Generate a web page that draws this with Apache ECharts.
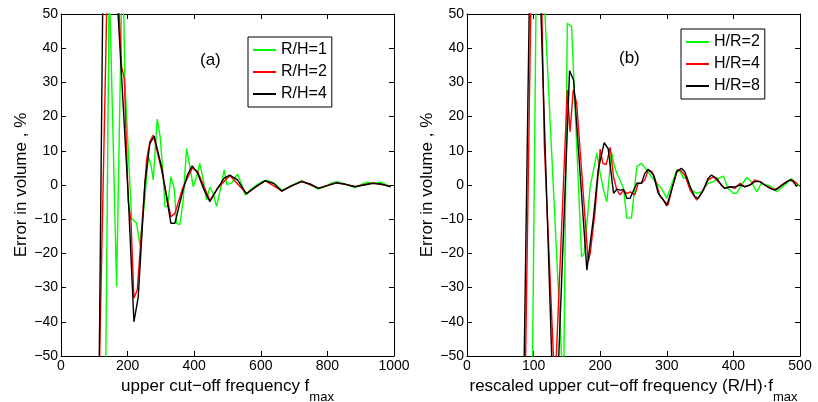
<!DOCTYPE html>
<html>
<head>
<meta charset="utf-8">
<script src="https://cdn.jsdelivr.net/npm/echarts@6/dist/echarts.min.js"></script>
<style>
html,body{margin:0;padding:0;background:#fff;}
#chart{width:818px;height:402px;}
</style>
</head>
<body>
<div id="chart"></div>
<script>
// ---------- Panel (a): x = upper cut-off frequency f_max ----------
const xA_RH1 = [130,145,167,185,192,212,217,227,237,242,252,262,270,277,289,298,307,312,320,330,340,347,357,367,377,387,397,407,417,427,437,447,457,467,480,490,498,513,530,543,553,568,588,603,618,640,663,680,700,723,745,773,795,810,828,850,883,905,920,937,960,990];
const yA_RH1 = [-100,60,-29.7,70,30,-9.7,-9.7,-11.2,-17.5,-17.5,-4,8.3,6,1.5,19.3,14,2.4,-6.3,-6.3,2.4,-1,-11.2,-11.6,-4.4,10.7,5.4,-0.5,2.4,6.3,1.6,-4.4,-0.6,-2.5,-6.3,-0.6,4.4,0.1,0.6,3.2,0.1,-2.9,-1.4,0,1.0,1.4,0.5,-1.5,-0.8,0.2,1.3,0.2,-1.2,-0.4,0.5,1.0,0.4,-0.8,0.3,0.8,0.4,0.8,-0.5];

const xA_RH2 = [110,145,160,175,182,190,202,210,219,229,257,267,277,302,330,342,365,394,410,447,470,507,557,613,663,723,773,828,883,937,990];
const yA_RH2 = [-79,88,110,50,34.6,31.2,-4.9,-10.2,-33.1,-30.7,7.3,12.7,14.6,4.4,-9.3,-8.3,-1,5,4,-4.5,-1,2.8,-2.5,1.3,-1.7,1.1,-0.9,0.7,-0.4,0.6,-0.4];

const xA_RH4 = [105,135,150,160,202,219,232,252,267,280,302,330,342,365,380,394,410,430,447,470,490,507,530,557,585,613,638,663,693,723,748,773,800,828,855,883,910,937,965,990];
const yA_RH4 = [-150,150,120,70,-3.4,-40,-32.7,0.5,12.2,14.3,5.2,-11.2,-11.2,-2,3,5.6,3.5,-1.5,-4.9,-1,2,2.9,1.5,-2.6,-0.5,1.2,0.5,-1.8,-0.2,1.0,0.3,-1.0,-0.2,0.6,0.2,-0.5,0,0.5,0.2,-0.5];

// ---------- Panel (b): x = rescaled frequency (R/H)*f_max ----------
const xB_HR2 = [95,106,110,145,150.6,157,172,176,185,195,200,205,210,217,222,227,232,235,240,247,255,262,270,277,285,292,300,307,315,320,325,330,337,345,352,362,370,377,385,392,400,405,412,420,427,435,442,450,457,465,472,480,487,495,500];
const yB_HR2 = [-120,100,78,-62,47.3,46.3,-21,-20,-0.5,9.3,3.4,-1.5,-4.9,9.5,5,2.4,0.5,-1,-9.7,-9.7,5.4,6.3,4.4,2.4,0.5,-1,-3.9,0,4.4,3.9,2.0,2.4,-1.5,-2.4,-2.0,0.5,1.0,1.9,2.6,-1,-2.4,-2.4,0,2.2,1.0,-2.0,0.5,0,-0.5,-2.0,-0.8,0.5,1.9,0.5,-0.5];

const xB_HR4 = [82,102,108,116,132,150.6,154.7,159.6,164.7,182,185,192,200,204,209,215,220,225,230,235,240,245,252,257,262,267,272,277,282,290,295,302,308,316,320,327,335,345,352,362,370,377,387,395,402,410,417,425,432,440,447,457,465,472,480,487,492,497];
const yB_HR4 = [-130,134,100,12.2,-60,27.8,15.6,27.8,23.9,-22.4,-20,-8.3,10.5,6.3,6.0,11,2.4,-1.5,-2.9,-1.5,-2.5,-2,-2.9,0.5,0.5,1.5,4.4,4.0,2.0,-3.4,-4.5,-5.8,-1,4.4,4.4,2.9,-1.5,-4.4,-2.4,1.5,2.4,1.0,-1.0,-0.5,-1.0,0.5,-0.5,0,1.5,1.0,0,-1.0,-1.3,0,1.0,1.5,1.0,0];

const xB_HR8 = [80,100,108,132,154,160,180,190,197,206,212,220,225,230,235,240,245,250,255,262,267,272,280,287,295,300,307,315,322,327,335,342,347,355,362,367,375,382,387,395,402,410,417,425,432,440,447,455,462,470,477,485,490,495];
const yB_HR8 = [-130,140,69,-80,33.4,30.7,-24.9,-9.3,4.4,12.4,10.6,-2.4,-1.2,-1.5,-1.3,-3.9,-3.9,-1.6,0.5,0.5,3.4,4.6,3.0,-2.4,-4.4,-6.1,-1.5,3.9,4.9,3.9,-0.5,-3.4,-3.9,-1.5,1.9,2.9,1.9,0,-1.0,-0.5,-0.6,0,-0.5,0,1.0,1.0,0,-1.0,-1.5,-0.5,0.5,1.5,1.0,-0.5];

const namesA = ['R/H=1','R/H=2','R/H=4'];
const namesB = ['H/R=2','H/R=4','H/R=8'];
const yTicks = {min:-50, max:50, interval:10};
const xTicksA = {min:0, max:1000, interval:200};
const xTicksB = {min:0, max:500, interval:100};
const colors = ['#00ff00','#ff0000','#000000'];

const pair = (xs, ys) => xs.map((x, i) => [x, ys[i]]);
const FONT = '"Liberation Sans", Arial, Helvetica, sans-serif';
const minusFmt = v => String(v).replace('-', '\u2212');

function xAxisPair(gi, t, title) {
  const base = {
    type:'value', gridIndex:gi, min:t.min, max:t.max, interval:t.interval,
    splitLine:{show:false},
    axisLine:{show:true, onZero:false, lineStyle:{color:'#000', width:1}},
    axisTick:{show:true, inside:true, length:5, lineStyle:{color:'#000'}}
  };
  return [
    Object.assign({}, base, {
      position:'bottom',
      axisLabel:{show:true, color:'#000', fontSize:14, fontFamily:FONT, margin:3, formatter:minusFmt},
      name:title, nameLocation:'middle', nameGap:5,
      nameTextStyle:{color:'#000', fontSize:17, fontFamily:FONT,
        rich:{sub:{fontSize:13, fontFamily:FONT, color:'#000', padding:[23,0,0,0]}}}
    }),
    Object.assign({}, base, {position:'top', axisLabel:{show:false}})
  ];
}
function yAxisPair(gi) {
  const base = {
    type:'value', gridIndex:gi, min:yTicks.min, max:yTicks.max, interval:yTicks.interval,
    splitLine:{show:false},
    axisLine:{show:true, onZero:false, lineStyle:{color:'#000', width:1}},
    axisTick:{show:true, inside:true, length:5, lineStyle:{color:'#000'}}
  };
  return [
    Object.assign({}, base, {
      position:'left',
      axisLabel:{show:true, color:'#000', fontSize:14, fontFamily:FONT, margin:3, formatter:minusFmt},
      name:'Error in volume , %', nameLocation:'middle', nameGap:31,
      nameTextStyle:{color:'#000', fontSize:17, fontFamily:FONT}
    }),
    Object.assign({}, base, {position:'right', axisLabel:{show:false}})
  ];
}

function lineSeries(name, data, xi, yi, color) {
  return {
    type:'line', name:name, data:data, xAxisIndex:xi, yAxisIndex:yi,
    symbol:'none', showSymbol:false, clip:true, animation:false,
    lineStyle:{color:color, width:1.4}, itemStyle:{color:color}
  };
}

const chart = echarts.init(document.getElementById('chart'), null, {renderer:'canvas'});
const legendCommon = {
  orient:'vertical', backgroundColor:'#fff', borderColor:'#000', borderWidth:1,
  padding:[5,5,5,5], itemGap:6, itemWidth:23, itemHeight:2, itemTextGap:2,
  icon:'rect',
  textStyle:{color:'#000', fontSize:16, fontFamily:FONT, lineHeight:16}
};
chart.setOption({
  animation:false,
  backgroundColor:'#fff',
  grid:[
    {left:61, right:424, top:14, bottom:46, outerBoundsMode:'none', containLabel:false},
    {left:467, right:18, top:14, bottom:46, outerBoundsMode:'none', containLabel:false}
  ],
  xAxis:[].concat(
    xAxisPair(0, xTicksA, 'upper cut\u2212off frequency f{sub|max}'),
    xAxisPair(1, xTicksB, 'rescaled upper cut\u2212off frequency (R/H)\u00b7f{sub|max}')
  ),
  yAxis:[].concat(yAxisPair(0), yAxisPair(1)),
  legend:[
    Object.assign({}, legendCommon, {left:248, top:37, data:namesA}),
    Object.assign({}, legendCommon, {left:681, top:29, data:namesB})
  ],
  graphic:[
    {type:'text', left:200, top:52, style:{text:'(a)', fontSize:17, fontFamily:FONT, fill:'#000'}},
    {type:'text', left:619, top:50, style:{text:'(b)', fontSize:17, fontFamily:FONT, fill:'#000'}}
  ],
  series:[
    lineSeries(namesA[0], pair(xA_RH1, yA_RH1), 0, 0, colors[0]),
    lineSeries(namesA[1], pair(xA_RH2, yA_RH2), 0, 0, colors[1]),
    lineSeries(namesA[2], pair(xA_RH4, yA_RH4), 0, 0, colors[2]),
    lineSeries(namesB[0], pair(xB_HR2, yB_HR2), 2, 2, colors[0]),
    lineSeries(namesB[1], pair(xB_HR4, yB_HR4), 2, 2, colors[1]),
    lineSeries(namesB[2], pair(xB_HR8, yB_HR8), 2, 2, colors[2])
  ]
});
</script>
</body>
</html>
